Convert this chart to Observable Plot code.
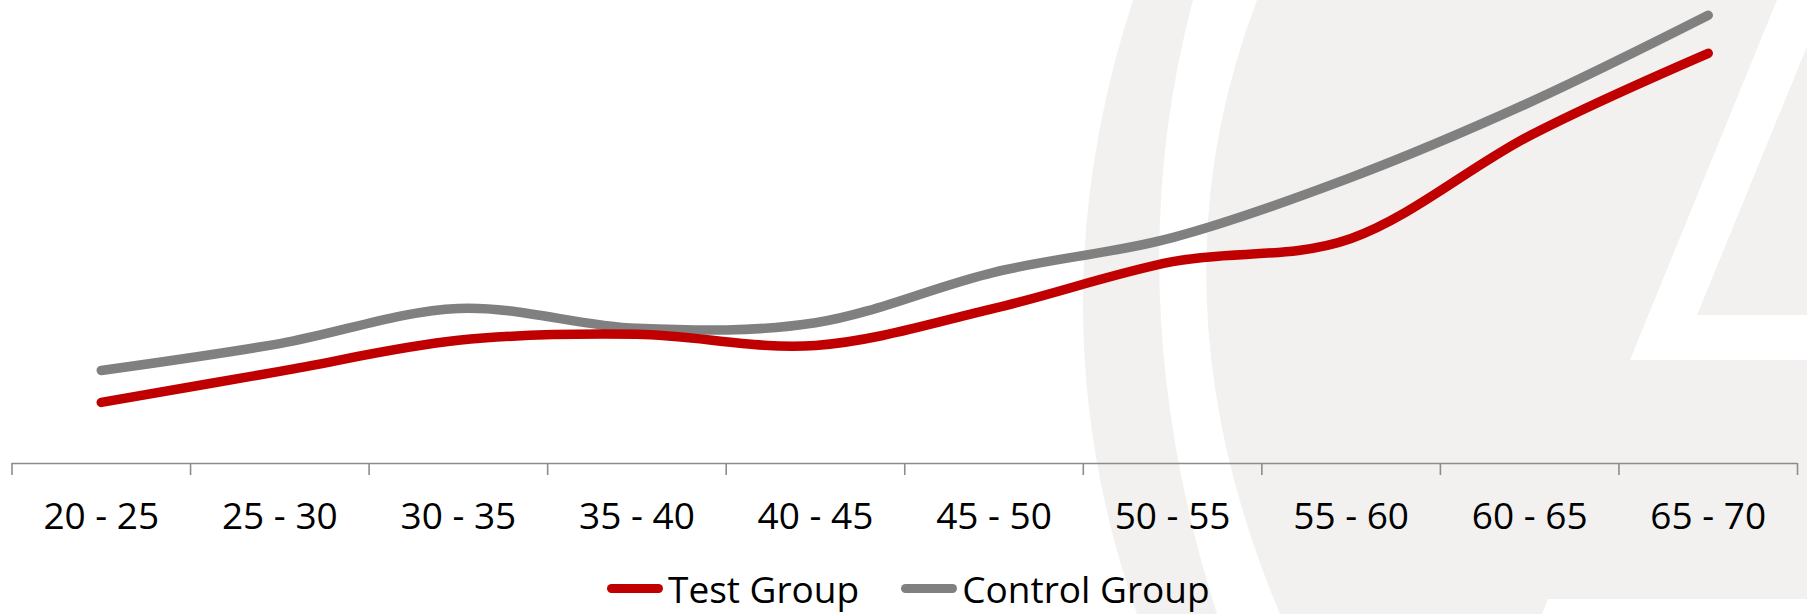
<!DOCTYPE html>
<html>
<head>
<meta charset="utf-8">
<script src="https://cdn.jsdelivr.net/npm/d3@7"></script>
<script src="https://cdn.jsdelivr.net/npm/@observablehq/plot@0.6"></script>
<style>
  html, body { margin: 0; padding: 0; background: #fff; overflow: hidden; }
  #wrap { position: relative; width: 1807px; height: 614px; }
  #bg { position: absolute; left: 0; top: 0; z-index: 0; }
  #chart { position: absolute; left: 0; top: 0; z-index: 1; }
  #legend { position: absolute; left: 607px; top: 570px; height: 37px; z-index: 2;
    display: flex; align-items: center; font-family: "Open Sans", sans-serif; font-size: 37px; line-height: 37px; color: #000; white-space: nowrap; }
  .sw { display: inline-block; width: 56px; height: 9px; border-radius: 4.5px; margin-right: 5px; }
</style>
</head>
<body>
<div id="wrap">
  <svg id="bg" width="1807" height="614" viewBox="0 0 1807 614">
    <path d="M1133,0 Q1031,313 1137,614 L1217,614 Q1115,293 1193,0 Z" fill="#f2f1f0"/>
    <path d="M1257,0 Q1145,293 1280,614 L1807,614 L1807,0 Z" fill="#f2f1f0"/>
    <path d="M1777,0 L1826,0 L1697,315 L1807,315 L1807,360 L1630,360 Z" fill="#fff"/>
    <path d="M1548,599 L1807,599 L1807,614 L1542,614 Z" fill="#fff"/>
  </svg>
  <div id="chart"></div>
  <div id="legend">
    <span class="sw" style="background:#c00000"></span><span>Test Group</span>
    <span class="sw" style="background:#808080; margin-left:42px"></span><span>Control Group</span>
  </div>
</div>
<script>
const categories = ["20 - 25", "25 - 30", "30 - 35", "35 - 40", "40 - 45", "45 - 50", "50 - 55", "55 - 60", "60 - 65", "65 - 70"];
const testGroup = [13.2, 19.9, 26.6, 27.9, 25.5, 33.5, 43.6, 48.6, 70.8, 88.6];
const controlGroup = [20.1, 25.9, 33.5, 29.2, 30.4, 41.3, 48.8, 61.8, 78.0, 96.8];
const seriesNames = ["Test Group", "Control Group"];
const seriesColors = ["#c00000", "#808080"];

const rows = [];
categories.forEach((c, i) => {
  rows.push({i, category: c, group: seriesNames[0], value: testGroup[i]});
  rows.push({i, category: c, group: seriesNames[1], value: controlGroup[i]});
});

const lineOpts = {
  x: d => d.i + 0.5, y: "value", stroke: "group", strokeWidth: 9.5,
  curve: "cardinal", tension: 0, strokeLinecap: "round", strokeLinejoin: "round"
};

const chart = Plot.plot({
  width: 1807,
  height: 548,
  marginLeft: 11.5,
  marginRight: 10,
  marginTop: 0,
  marginBottom: 85,
  style: {background: "transparent", fontFamily: "Open Sans, sans-serif", color: "#000"},
  x: {type: "linear", domain: [0, categories.length], axis: null},
  y: {domain: [0, 100], axis: null},
  color: {domain: seriesNames, range: seriesColors},
  marks: [
    Plot.ruleY([0], {stroke: "#8c8c8c", strokeWidth: 1.6}),
    Plot.axisX(d3.range(categories.length + 1), {tickSize: 12, tickFormat: () => "", stroke: "#8c8c8c", strokeWidth: 1.6}),
    Plot.axisX(d3.range(categories.length).map(i => i + 0.5), {
      tickSize: 0, tickPadding: 39, fontSize: 37, fill: "#000",
      tickFormat: v => categories[Math.round(v - 0.5)]
    }),
    Plot.line(rows.filter(d => d.group === seriesNames[1]), lineOpts),
    Plot.line(rows.filter(d => d.group === seriesNames[0]), lineOpts)
  ]
});
document.getElementById("chart").appendChild(chart);
</script>
</body>
</html>
